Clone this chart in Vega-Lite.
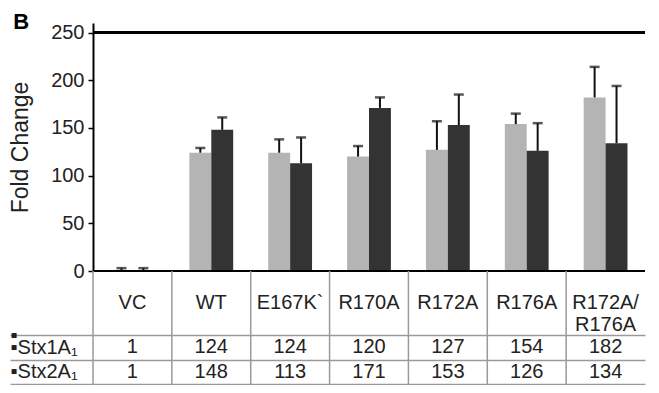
{
  "$schema": "https://vega.github.io/schema/vega-lite/v6.json",
  "padding": {"left": 9, "top": 10, "right": 0, "bottom": 0},
  "title": {"text": "B", "anchor": "start", "frame": "bounds", "fontSize": 22, "fontWeight": "bold", "color": "black", "offset": -11, "dx": 4},
  "spacing": 0,
  "bounds": "flush",
  "config": {"font": "Liberation Sans", "view": {"stroke": null}},
  "datasets": {
    "bars": [
      {"cat": "VC", "series": "Stx1A₁", "value": 1, "upper": 3},
      {"cat": "VC", "series": "Stx2A₁", "value": 1, "upper": 3},
      {"cat": "WT", "series": "Stx1A₁", "value": 124, "upper": 129},
      {"cat": "WT", "series": "Stx2A₁", "value": 148, "upper": 161},
      {"cat": "E167K`", "series": "Stx1A₁", "value": 124, "upper": 138},
      {"cat": "E167K`", "series": "Stx2A₁", "value": 113, "upper": 140},
      {"cat": "R170A", "series": "Stx1A₁", "value": 120, "upper": 131},
      {"cat": "R170A", "series": "Stx2A₁", "value": 171, "upper": 182},
      {"cat": "R172A", "series": "Stx1A₁", "value": 127, "upper": 157},
      {"cat": "R172A", "series": "Stx2A₁", "value": 153, "upper": 185},
      {"cat": "R176A", "series": "Stx1A₁", "value": 154, "upper": 165},
      {"cat": "R176A", "series": "Stx2A₁", "value": 126, "upper": 155},
      {"cat": "R172A/R176A", "series": "Stx1A₁", "value": 182, "upper": 214},
      {"cat": "R172A/R176A", "series": "Stx2A₁", "value": 134, "upper": 194}
    ],
    "header": [
      {"cat": "VC", "label": "VC"},
      {"cat": "WT", "label": "WT"},
      {"cat": "E167K`", "label": "E167K`"},
      {"cat": "R170A", "label": "R170A"},
      {"cat": "R172A", "label": "R172A"},
      {"cat": "R176A", "label": "R176A"},
      {"cat": "R172A/R176A", "label": "R172A/\nR176A"}
    ]
  },
  "vconcat": [
    {
      "width": 552,
      "height": 248,
      "data": {"name": "bars"},
      "layer": [
        {
          "mark": {"type": "bar"},
          "encoding": {
            "x": {"field": "cat", "type": "nominal", "sort": null, "scale": {"paddingInner": 0, "paddingOuter": 0}, "axis": null},
            "xOffset": {"field": "series", "type": "nominal", "sort": null, "scale": {"paddingInner": 0, "paddingOuter": 0.8}},
            "y": {"field": "value", "type": "quantitative", "scale": {"domain": [0, 250]},
                  "axis": {"title": "Fold Change", "titleFontSize": 23, "titleFontWeight": "normal", "titleColor": "#222", "titlePadding": 18,
                           "labelFontSize": 20, "labelColor": "#222", "tickSize": 5, "tickColor": "black", "tickWidth": 1.5,
                           "domainColor": "black", "domainWidth": 2, "labelPadding": 4, "values": [0, 50, 100, 150, 200, 250], "grid": false}},
            "color": {"field": "series", "type": "nominal", "sort": null, "scale": {"range": ["#b4b4b4", "#333333"]}, "legend": null}
          }
        },
        {
          "mark": {"type": "rule", "color": "#111111", "strokeWidth": 2},
          "encoding": {
            "x": {"field": "cat", "type": "nominal", "sort": null},
            "xOffset": {"field": "series", "type": "nominal", "sort": null},
            "y": {"field": "value", "type": "quantitative"},
            "y2": {"field": "upper"}
          }
        },
        {
          "mark": {"type": "tick", "color": "#111111", "thickness": 2.5, "size": 10},
          "encoding": {
            "x": {"field": "cat", "type": "nominal", "sort": null},
            "xOffset": {"field": "series", "type": "nominal", "sort": null},
            "y": {"field": "upper", "type": "quantitative"}
          }
        },
        {
          "mark": {"type": "rule", "color": "black", "strokeWidth": 2},
          "encoding": {"y": {"datum": 250, "type": "quantitative"}}
        },
        {
          "mark": {"type": "rule", "color": "black", "strokeWidth": 2},
          "encoding": {"y": {"datum": 0, "type": "quantitative"}}
        }
      ]
    },
    {
      "width": 552,
      "height": 64,
      "data": {"name": "header"},
      "layer": [
        {
          "mark": {"type": "text", "fontSize": 20, "color": "#222222", "lineBreak": "\n", "lineHeight": 22},
          "encoding": {
            "x": {"field": "cat", "type": "nominal", "sort": null, "scale": {"paddingInner": 0, "paddingOuter": 0}, "axis": null},
            "text": {"field": "label", "type": "nominal"}
          }
        },
        {
          "mark": {"type": "rule", "color": "#9a9a9a", "strokeWidth": 1.5},
          "encoding": {"x": {"field": "cat", "type": "nominal", "sort": null, "bandPosition": 0}}
        }
      ]
    },
    {
      "width": 552,
      "height": 49,
      "layer": [
        {
          "data": {"name": "bars"},
          "mark": {"type": "text", "fontSize": 20, "color": "#222222"},
          "encoding": {
            "x": {"field": "cat", "type": "nominal", "sort": null, "scale": {"paddingInner": 0, "paddingOuter": 0}, "axis": null},
            "y": {"field": "series", "type": "nominal", "sort": null, "scale": {"paddingInner": 0, "paddingOuter": 0},
                  "axis": {"title": null, "labelFontSize": 20, "labelColor": "#222222", "labelAlign": "left", "labelPadding": 0,
                           "labelExpr": "'\u00a0▪' + datum.label",
                           "ticks": true, "tickBand": "extent", "tickSize": 83, "tickColor": "#9a9a9a", "tickWidth": 1.5,
                           "domain": false,
                           "grid": true, "gridColor": "#9a9a9a", "gridWidth": 1.5, "gridOpacity": 1}},
            "text": {"field": "value", "type": "quantitative"}
          }
        },
        {
          "data": {"name": "header"},
          "mark": {"type": "rule", "color": "#9a9a9a", "strokeWidth": 1.5},
          "encoding": {"x": {"field": "cat", "type": "nominal", "sort": null, "bandPosition": 0}}
        }
      ]
    }
  ]
}
